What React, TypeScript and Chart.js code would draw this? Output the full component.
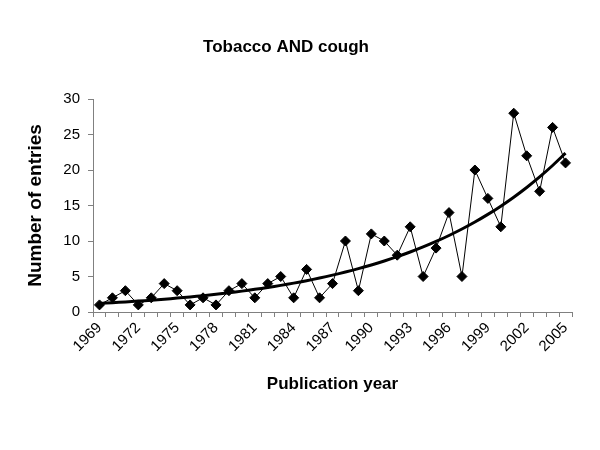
import React, { useEffect, useRef } from 'react';
import { Chart, registerables } from 'chart.js';

Chart.register(...registerables);

const years = [
  '1969', '1970', '1971', '1972', '1973', '1974', '1975', '1976', '1977', '1978',
  '1979', '1980', '1981', '1982', '1983', '1984', '1985', '1986', '1987', '1988',
  '1989', '1990', '1991', '1992', '1993', '1994', '1995', '1996', '1997', '1998',
  '1999', '2000', '2001', '2002', '2003', '2004', '2005',
];

const entries = [
  1, 2, 3, 1, 2, 4, 3, 1, 2, 1,
  3, 4, 2, 4, 5, 2, 6, 2, 4, 10,
  3, 11, 10, 8, 12, 5, 9, 14, 5, 20,
  16, 12, 28, 22, 17, 26, 21,
];

const yMin = 0;
const yMax = 30;
const yStep = 5;

// Excel-style exponential trendline: least squares on ln(y)
function exponentialTrend(values: number[]): number[] {
  const n = values.length;
  let sx = 0, sy = 0, sxx = 0, sxy = 0;
  values.forEach((v, i) => {
    const x = i + 1;
    const ly = Math.log(v);
    sx += x; sy += ly; sxx += x * x; sxy += x * ly;
  });
  const b = (n * sxy - sx * sy) / (n * sxx - sx * sx);
  const a = (sy - b * sx) / n;
  return values.map((_, i) => Math.exp(a + b * (i + 1)));
}

const trend = exponentialTrend(entries);

const FONT = '"Liberation Sans", Arial, sans-serif';

export default function App() {
  const ref = useRef<HTMLCanvasElement | null>(null);

  useEffect(() => {
    document.body.style.margin = '0';
    if (!ref.current) return;
    const chart = new Chart(ref.current, {
      type: 'line',
      data: {
        labels: years,
        datasets: [
          {
            label: 'Entries',
            data: entries,
            borderColor: '#000',
            backgroundColor: '#000',
            borderWidth: 1,
            pointStyle: 'rectRot',
            pointRadius: 5,
            pointBackgroundColor: '#000',
            pointBorderColor: '#000',
            tension: 0,
          },
          {
            label: 'Trend',
            data: trend,
            borderColor: '#000',
            borderWidth: 3,
            pointRadius: 0,
            tension: 0.3,
          },
        ],
      },
      options: {
        responsive: false,
        animation: false,
        layout: { padding: { left: 0, right: 28, top: 0, bottom: 40 } },
        plugins: {
          legend: { display: false },
          tooltip: { enabled: false },
          title: {
            display: true,
            text: 'Tobacco AND cough',
            color: '#000',
            font: { family: FONT, size: 17, weight: 'bold' },
            padding: { top: 37, bottom: 41.6 },
          },
        },
        scales: {
          x: {
            type: 'category',
            offset: true,
            grid: {
              offset: true,
              drawOnChartArea: false,
              drawTicks: true,
              tickLength: 5,
              color: '#808080',
            },
            border: { color: '#808080', width: 1 },
            ticks: {
              autoSkip: false,
              maxRotation: 45,
              minRotation: 45,
              color: '#000',
              font: { family: FONT, size: 15 },
              padding: 2,
              callback: (_v: any, i: number) => (i % 3 === 0 ? years[i] : ''),
            },
            title: {
              display: true,
              text: 'Publication year',
              color: '#000',
              font: { family: FONT, size: 17, weight: 'bold' },
              padding: { top: 0, bottom: 15 },
            },
            afterFit: (s: any) => { s.height = 98; },
          },
          y: {
            min: yMin,
            max: yMax,
            grid: {
              drawOnChartArea: false,
              drawTicks: true,
              tickLength: 5,
              color: '#808080',
            },
            border: { color: '#808080', width: 1 },
            ticks: {
              stepSize: yStep,
              color: '#000',
              font: { family: FONT, size: 15 },
              padding: 8,
            },
            title: {
              display: true,
              text: 'Number of entries',
              color: '#000',
              font: { family: FONT, size: 19, weight: 'bold' },
              padding: { top: 24, bottom: 0 },
            },
            afterFit: (s: any) => { s.width = 93; },
          },
        },
      },
    });
    return () => chart.destroy();
  }, []);

  return (
    <div style={{ width: 600, height: 450 }}>
      <canvas ref={ref} width={600} height={450} />
    </div>
  );
}
